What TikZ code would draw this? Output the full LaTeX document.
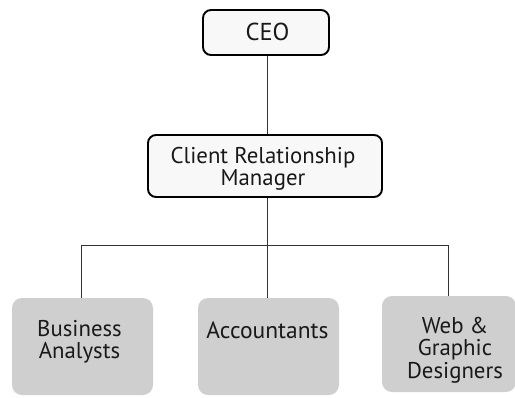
\documentclass[tikz,border=0pt]{standalone}
\usepackage{fontspec}
\setmainfont{PT Sans}
\definecolor{boxgray}{HTML}{CFCFCF}
\definecolor{topfill}{HTML}{F8F8F8}
\definecolor{linegray}{HTML}{333333}
\begin{document}
\begin{tikzpicture}[x=1pt,y=-1pt,
  topbox/.style={draw=black,line width=1.9pt,fill=topfill,rounded corners=8pt,inner sep=0pt},
  lowbox/.style={fill=boxgray,rounded corners=10pt,inner sep=0pt},
  lbl/.style={font=\fontsize{22.8}{22}\selectfont,align=center,inner sep=0pt,text=black!90,anchor=base},
  conn/.style={draw=linegray,line width=0.9pt}]
\useasboundingbox (0,0) rectangle (515,397);
% boxes
\node[topbox,minimum width=126pt,minimum height=45pt] (ceo) at (266,32.5) {};
\node[topbox,minimum width=234pt,minimum height=62pt] (crm) at (265,166) {};
\node[lowbox,minimum width=141pt,minimum height=97pt] (ba) at (82.5,346.5) {};
\node[lowbox,minimum width=141pt,minimum height=97pt] (acc) at (268.5,346.5) {};
\node[lowbox,minimum width=134pt,minimum height=96pt] (web) at (449,344) {};
% labels (base anchor = baseline of last line)
\node[lbl,font=\fontsize{24.5}{22}\selectfont] (ceotxt) at (267.5,40) {CEO};
\node[lbl] (crmtxt) at (263,185) {Client Relationship\\Manager};
\node[lbl] (batxt) at (79.5,358) {Business\\Analysts};
\node[lbl,font=\fontsize{23.5}{22}\selectfont] (acctxt) at (267.5,338.5) {Accountants};
\node[lbl,font=\fontsize{22.8}{22.5}\selectfont] (webtxt) at (455,378) {Web \&\\Graphic\\Designers};
% connectors
\coordinate (bus) at (267,245);
\coordinate (busl) at (81,245);
\coordinate (busr) at (448,245);
\draw[conn] (ceo.south -| bus) -- (crm.north -| bus);
\draw[conn] (crm.south -| bus) -- (acc.north -| bus);
\draw[conn] (ba.north -| busl) -- (busl) -- (busr) -- (web.north -| busr);
\end{tikzpicture}
\end{document}
